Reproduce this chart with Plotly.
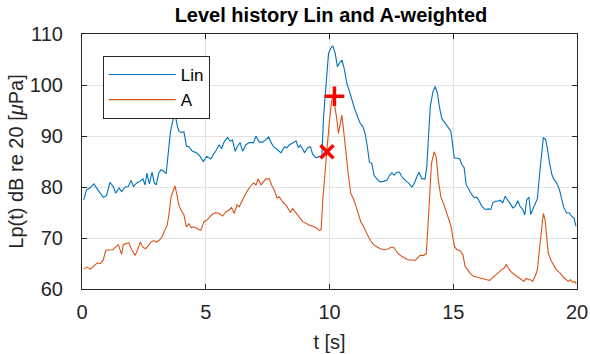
import plotly.graph_objects as go

# ---- data ----
t_lin = [0.07, 0.18, 0.31, 0.48, 0.65, 0.86, 0.99, 1.13, 1.26, 1.36, 1.5, 1.6, 1.74, 1.87, 1.98,
         2.08, 2.21, 2.35, 2.46, 2.55, 2.62, 2.72, 2.83, 2.92, 3.0, 3.1, 3.19, 3.3, 3.4, 3.48,
         3.57, 3.67, 3.75, 3.85, 3.91, 4.0, 4.12, 4.22, 4.32, 4.46, 4.63, 4.77, 4.9, 5.04, 5.2,
         5.31, 5.4, 5.54, 5.64, 5.74, 5.88, 5.99, 6.08, 6.19, 6.28, 6.39, 6.49, 6.62, 6.76, 6.93,
         7.03, 7.16, 7.3, 7.43, 7.54, 7.64, 7.74, 7.88, 8.04, 8.18, 8.28, 8.38, 8.55, 8.65, 8.74,
         8.82, 8.92, 8.99, 9.12, 9.23, 9.32, 9.46, 9.59, 9.69, 9.76, 9.87, 9.96, 10.05, 10.13,
         10.23, 10.32, 10.4, 10.5, 10.59, 10.7, 10.81, 10.9, 11.01, 11.13, 11.24, 11.35, 11.44,
         11.53, 11.61, 11.71, 11.8, 11.91, 12.05, 12.18, 12.32, 12.43, 12.52, 12.61, 12.72, 12.83,
         12.92, 13.06, 13.19, 13.33, 13.42, 13.53, 13.62, 13.73, 13.86, 13.93, 14.0, 14.07, 14.18,
         14.27, 14.36, 14.44, 14.54, 14.67, 14.81, 14.9, 14.97, 15.04, 15.15, 15.26, 15.35, 15.44,
         15.52, 15.62, 15.75, 15.85, 15.95, 16.05, 16.16, 16.29, 16.42, 16.52, 16.6, 16.69, 16.79,
         16.9, 17.0, 17.1, 17.19, 17.3, 17.41, 17.5, 17.61, 17.7, 17.81, 17.89, 17.97, 18.06,
         18.13, 18.21, 18.31, 18.4, 18.48, 18.57, 18.64, 18.73, 18.8, 18.88, 18.98, 19.07, 19.18,
         19.29, 19.38, 19.47, 19.58, 19.69, 19.78, 19.88, 19.96]
lin = [77.5, 79.4, 79.8, 80.6, 79.4, 78.0, 78.3, 80.9, 80.1, 78.8, 79.8, 79.1, 80.0, 80.1, 81.3,
       80.1, 80.8, 81.1, 81.6, 80.4, 82.7, 80.6, 82.9, 80.8, 80.4, 82.7, 83.4, 83.1, 82.6, 86.0,
       90.7, 93.0, 94.6, 92.0, 91.0, 90.7, 90.8, 88.0, 87.9, 87.0, 86.7, 86.0, 85.0, 86.0, 85.5,
       86.4, 87.0, 88.3, 87.5, 88.8, 89.7, 89.0, 89.2, 87.0, 88.0, 88.7, 87.0, 88.3, 88.7, 88.7,
       90.0, 88.8, 88.8, 89.3, 89.8, 88.7, 87.9, 87.4, 86.7, 87.9, 87.7, 88.3, 88.7, 89.0, 87.7,
       88.2, 87.4, 86.7, 87.7, 87.9, 86.4, 85.7, 86.0, 86.0, 93.8, 101.6, 106.2, 107.2, 107.7,
       106.2, 103.6, 104.3, 104.9, 103.3, 100.3, 98.7, 97.0, 95.4, 93.8, 92.5, 91.8, 90.5,
       87.9, 84.9, 84.6, 82.3, 81.6, 81.0, 81.1, 81.3, 82.3, 82.8, 82.3, 82.9, 82.9,
       82.0, 81.3, 80.8, 80.0, 80.7, 82.0, 82.9, 81.6, 81.6, 83.9, 89.8, 95.7, 98.7,
       99.7, 98.4, 95.7, 93.4, 92.5, 91.5, 91.0, 88.5, 85.7, 85.7, 85.5, 84.4, 83.8,
       80.5, 79.5, 78.5, 77.9, 78.0, 77.2, 76.2, 75.6, 75.7, 75.6, 76.9, 77.2, 77.2,
       77.4, 76.9, 78.2, 77.5, 76.9, 75.9, 76.2, 77.3, 76.2, 75.6, 74.5, 77.5, 78.0,
       74.6, 75.6, 76.9, 77.7, 82.1, 86.7, 89.7, 89.3, 87.7, 85.1, 82.5, 81.5, 80.8,
       79.5, 77.5, 75.9, 74.9, 74.9, 74.3, 73.9, 72.3]

t_a = [0.07, 0.2, 0.34, 0.48, 0.61, 0.75, 0.86, 0.96, 1.1, 1.24, 1.35, 1.47, 1.6, 1.67, 1.78,
       1.89, 2.01, 2.15, 2.24, 2.35, 2.46, 2.57, 2.68, 2.79, 2.89, 3.0, 3.11, 3.23, 3.34, 3.44,
       3.52, 3.6, 3.7, 3.76, 3.85, 3.91, 4.0, 4.12, 4.22, 4.32, 4.42, 4.52, 4.66, 4.8, 4.93,
       5.07, 5.23, 5.4, 5.54, 5.68, 5.81, 5.95, 6.04, 6.15, 6.26, 6.35, 6.45, 6.55, 6.66, 6.8,
       6.93, 7.03, 7.12, 7.23, 7.34, 7.43, 7.57, 7.66, 7.77, 7.88, 7.97, 8.04, 8.15, 8.24, 8.34,
       8.42, 8.51, 8.61, 8.72, 8.82, 8.92, 9.05, 9.19, 9.32, 9.46, 9.59, 9.66, 9.73, 9.82, 9.89,
       10.0, 10.09, 10.16, 10.23, 10.3, 10.36, 10.43, 10.5, 10.57, 10.63, 10.7, 10.77, 10.86,
       10.97, 11.08, 11.17, 11.27, 11.37, 11.48, 11.58, 11.67, 11.78, 11.91, 12.05, 12.21,
       12.38, 12.48, 12.59, 12.69, 12.79, 12.92, 13.06, 13.19, 13.33, 13.46, 13.56, 13.66,
       13.8, 13.91, 13.96, 14.04, 14.12, 14.23, 14.31, 14.4, 14.5, 14.61, 14.71, 14.81, 14.9,
       14.98, 15.06, 15.15, 15.28, 15.39, 15.48, 15.58, 15.69, 15.82, 15.95, 16.09, 16.22,
       16.36, 16.47, 16.56, 16.69, 16.83, 16.96, 17.06, 17.14, 17.23, 17.33, 17.43, 17.54,
       17.67, 17.77, 17.86, 17.94, 18.04, 18.13, 18.21, 18.31, 18.4, 18.48, 18.57, 18.64,
       18.71, 18.78, 18.84, 18.94, 19.05, 19.15, 19.25, 19.34, 19.45, 19.56, 19.65, 19.74,
       19.82, 19.91, 19.97]
a_w = [63.9, 64.3, 63.9, 64.6, 65.1, 65.0, 65.7, 67.6, 67.7, 67.7, 68.2, 68.7, 66.8, 68.7, 68.9,
       69.1, 67.7, 66.6, 67.6, 69.2, 68.2, 67.9, 68.5, 69.2, 69.5, 69.2, 69.5, 70.2, 71.5, 72.5,
       74.8, 78.1, 79.4, 80.2, 78.1, 76.5, 75.5, 74.5, 72.2, 72.8, 72.0, 72.2, 71.8, 71.5, 73.2,
       73.6, 74.5, 75.0, 74.8, 74.3, 75.1, 75.5, 76.0, 74.8, 76.5, 76.1, 77.1, 78.1, 79.1, 80.1,
       80.8, 80.4, 81.6, 80.4, 81.1, 81.6, 81.6, 80.4, 79.4, 77.8, 78.1, 77.5, 76.8, 76.5, 75.8,
       75.0, 75.8, 75.1, 74.5, 73.8, 73.2, 72.8, 72.5, 72.3, 72.0, 71.5, 71.6, 77.5, 84.0, 86.9,
       93.1, 97.0, 97.7, 95.7, 93.1, 90.5, 92.5, 94.1, 91.1, 87.9, 84.6, 82.0, 78.7,
       77.7, 76.1, 74.4, 73.1, 72.3, 71.1, 70.2, 69.4, 68.7, 68.3, 67.9, 67.7,
       67.9, 68.2, 68.2, 67.5, 66.9, 66.4, 66.1, 65.7, 65.7, 65.6, 66.1, 66.6,
       66.6, 66.9, 70.8, 79.3, 84.6, 86.9, 85.9, 81.3, 78.0, 76.7, 75.1, 73.8, 72.5,
       70.2, 68.2, 67.7, 67.5, 66.7, 64.4, 63.8, 63.0, 62.5, 62.3, 62.1, 61.9,
       61.8, 61.7, 62.1, 62.8, 63.4, 63.8, 64.1, 64.8, 64.1, 63.4, 63.0, 62.6,
       62.3, 61.8, 61.5, 62.1, 61.8, 61.8, 61.5, 62.5, 63.8, 67.7, 72.3, 74.8,
       73.6, 70.3, 67.0, 65.7, 64.8, 63.9, 63.4, 63.0, 62.3, 61.9, 61.5, 61.8,
       61.3, 61.5, 61.0]

# special points marked in red
t_cross = [9.9]
v_cross = [86.9]
t_plus = [10.2]
v_plus = [97.8]

x_ticks = [0, 5, 10, 15, 20]
y_ticks = [60, 70, 80, 90, 100, 110]

BLUE = "#0072BD"
ORANGE = "#D95319"
AX = "#262626"
FONT = "Liberation Sans, Arial, sans-serif"

fig = go.Figure()
fig.add_trace(go.Scatter(x=t_lin, y=lin, mode="lines", name="Lin",
                         line=dict(color=BLUE, width=1.1)))
fig.add_trace(go.Scatter(x=t_a, y=a_w, mode="lines", name="A",
                         line=dict(color=ORANGE, width=1.1)))
fig.add_trace(go.Scatter(x=t_cross, y=v_cross, mode="markers", showlegend=False,
                         marker=dict(symbol="x-thin", size=13,
                                     line=dict(color="#FF0000", width=3.5))))
fig.add_trace(go.Scatter(x=t_plus, y=v_plus, mode="markers", showlegend=False,
                         marker=dict(symbol="cross-thin", size=14,
                                     line=dict(color="#FF0000", width=3.5))))

axis_common = dict(showline=True, linecolor=AX, linewidth=1, mirror="allticks",
                   ticks="inside", ticklen=5, tickcolor=AX, tickwidth=1,
                   showgrid=True, gridcolor="#E3E3E3", gridwidth=1, zeroline=False,
                   automargin=False,
                   tickfont=dict(family=FONT, size=20, color=AX))

fig.update_xaxes(range=[0, 20], tickmode="array", tickvals=x_ticks,
                 ticklabelstandoff=5,
                 title=dict(text="t [s]", font=dict(family=FONT, size=20, color=AX),
                            standoff=12),
                 **axis_common)
fig.update_yaxes(range=[60, 110], tickmode="array", tickvals=y_ticks,
                 ticklabelstandoff=14,
                 title=dict(text="Lp(t) dB re 20 [<i>μ</i>Pa]",
                            font=dict(family=FONT, size=20, color=AX), standoff=0),
                 **axis_common)

fig.update_layout(
    width=590, height=354,
    margin=dict(l=82, r=13, t=34, b=65),
    paper_bgcolor="white", plot_bgcolor="white",
    title=dict(text="<b>Level history Lin and A-weighted</b>", xref="paper", x=0.503,
               xanchor="center", yref="container", y=0.957, yanchor="middle",
               font=dict(family=FONT, size=20, color="black")),
    legend=dict(x=0.042, y=0.914, xanchor="left", yanchor="top",
                bgcolor="white", bordercolor=AX, borderwidth=1,
                font=dict(family=FONT, size=17, color="black"),
                itemwidth=67),
    showlegend=True,
)

# remove the default page margin so the figure sits at the window's corner
fig.write_html("out.html", config={"displayModeBar": False},
               post_script="document.body.style.margin='0';")
